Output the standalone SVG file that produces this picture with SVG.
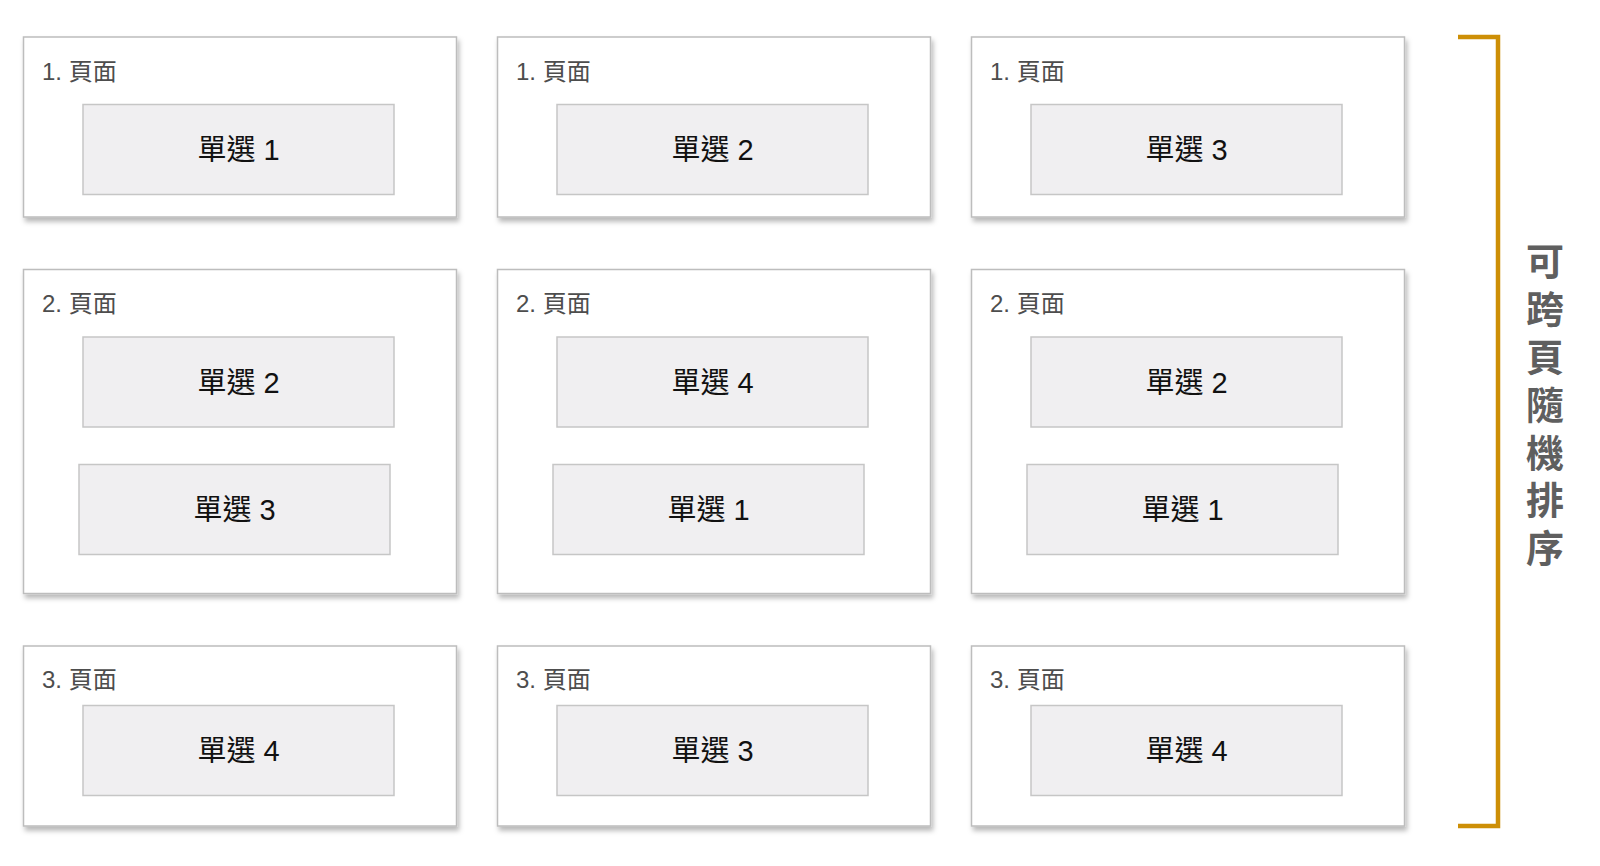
<svg xmlns="http://www.w3.org/2000/svg" width="1600" height="866" viewBox="0 0 1600 866">
<style>
.page{fill:#ffffff;stroke:#bdbdbd;stroke-width:1.5}
.opt{fill:#f0eff1;stroke:#c6c6c6;stroke-width:1.5}
.lbl{font-family:"Liberation Sans","Noto Sans CJK TC",sans-serif;font-size:24px;fill:#4d4d4d}
.otxt{font-family:"Liberation Sans","Noto Sans CJK TC",sans-serif;font-size:29px;fill:#111111;text-anchor:middle}
.side{font-family:"Noto Sans CJK TC",sans-serif;font-size:38px;font-weight:bold;fill:#5f5f5f;writing-mode:vertical-rl;letter-spacing:9.8px}
.br{fill:none;stroke:#cd8f06;stroke-width:4.5}
</style>
<defs>
<filter id="sh" x="-5%" y="-5%" width="115%" height="120%">
<feDropShadow dx="2" dy="4" stdDeviation="2.5" flood-color="#000" flood-opacity="0.28"/>
</filter>
</defs>
<rect width="1600" height="866" fill="#ffffff"/>

<!-- Row 1 -->
<g id="p11">
<rect class="page" x="23.5" y="37" width="433" height="180" filter="url(#sh)"/>
<text class="lbl" x="42" y="80">1. 頁面</text>
<g id="p11o1"><rect class="opt" x="83" y="104.5" width="311" height="90"/><text class="otxt" x="238.5" y="160">單選 1</text></g>
</g>
<g id="p21">
<rect class="page" x="497.5" y="37" width="433" height="180" filter="url(#sh)"/>
<text class="lbl" x="516" y="80">1. 頁面</text>
<g id="p21o1"><rect class="opt" x="557" y="104.5" width="311" height="90"/><text class="otxt" x="712.5" y="160">單選 2</text></g>
</g>
<g id="p31">
<rect class="page" x="971.5" y="37" width="433" height="180" filter="url(#sh)"/>
<text class="lbl" x="990" y="80">1. 頁面</text>
<g id="p31o1"><rect class="opt" x="1031" y="104.5" width="311" height="90"/><text class="otxt" x="1186.5" y="160">單選 3</text></g>
</g>

<!-- Row 2 -->
<g id="p12">
<rect class="page" x="23.5" y="269.5" width="433" height="324" filter="url(#sh)"/>
<text class="lbl" x="42" y="312">2. 頁面</text>
<g id="p12o1"><rect class="opt" x="83" y="337" width="311" height="90"/><text class="otxt" x="238.5" y="392.5">單選 2</text></g>
<g id="p12o2"><rect class="opt" x="79" y="464.5" width="311" height="90"/><text class="otxt" x="234.5" y="520">單選 3</text></g>
</g>
<g id="p22">
<rect class="page" x="497.5" y="269.5" width="433" height="324" filter="url(#sh)"/>
<text class="lbl" x="516" y="312">2. 頁面</text>
<g id="p22o1"><rect class="opt" x="557" y="337" width="311" height="90"/><text class="otxt" x="712.5" y="392.5">單選 4</text></g>
<g id="p22o2"><rect class="opt" x="553" y="464.5" width="311" height="90"/><text class="otxt" x="708.5" y="520">單選 1</text></g>
</g>
<g id="p32">
<rect class="page" x="971.5" y="269.5" width="433" height="324" filter="url(#sh)"/>
<text class="lbl" x="990" y="312">2. 頁面</text>
<g id="p32o1"><rect class="opt" x="1031" y="337" width="311" height="90"/><text class="otxt" x="1186.5" y="392.5">單選 2</text></g>
<g id="p32o2"><rect class="opt" x="1027" y="464.5" width="311" height="90"/><text class="otxt" x="1182.5" y="520">單選 1</text></g>
</g>

<!-- Row 3 -->
<g id="p13">
<rect class="page" x="23.5" y="646" width="433" height="180" filter="url(#sh)"/>
<text class="lbl" x="42" y="688">3. 頁面</text>
<g id="p13o1"><rect class="opt" x="83" y="705.5" width="311" height="90"/><text class="otxt" x="238.5" y="761">單選 4</text></g>
</g>
<g id="p23">
<rect class="page" x="497.5" y="646" width="433" height="180" filter="url(#sh)"/>
<text class="lbl" x="516" y="688">3. 頁面</text>
<g id="p23o1"><rect class="opt" x="557" y="705.5" width="311" height="90"/><text class="otxt" x="712.5" y="761">單選 3</text></g>
</g>
<g id="p33">
<rect class="page" x="971.5" y="646" width="433" height="180" filter="url(#sh)"/>
<text class="lbl" x="990" y="688">3. 頁面</text>
<g id="p33o1"><rect class="opt" x="1031" y="705.5" width="311" height="90"/><text class="otxt" x="1186.5" y="761">單選 4</text></g>
</g>

<g id="connectors">
<path class="br" d="M1458 37 H1498 V826 H1458"/>
</g>

<g id="sideLabel">
<text class="side" x="1545" y="242">可跨頁隨機排序</text>
</g>
</svg>
